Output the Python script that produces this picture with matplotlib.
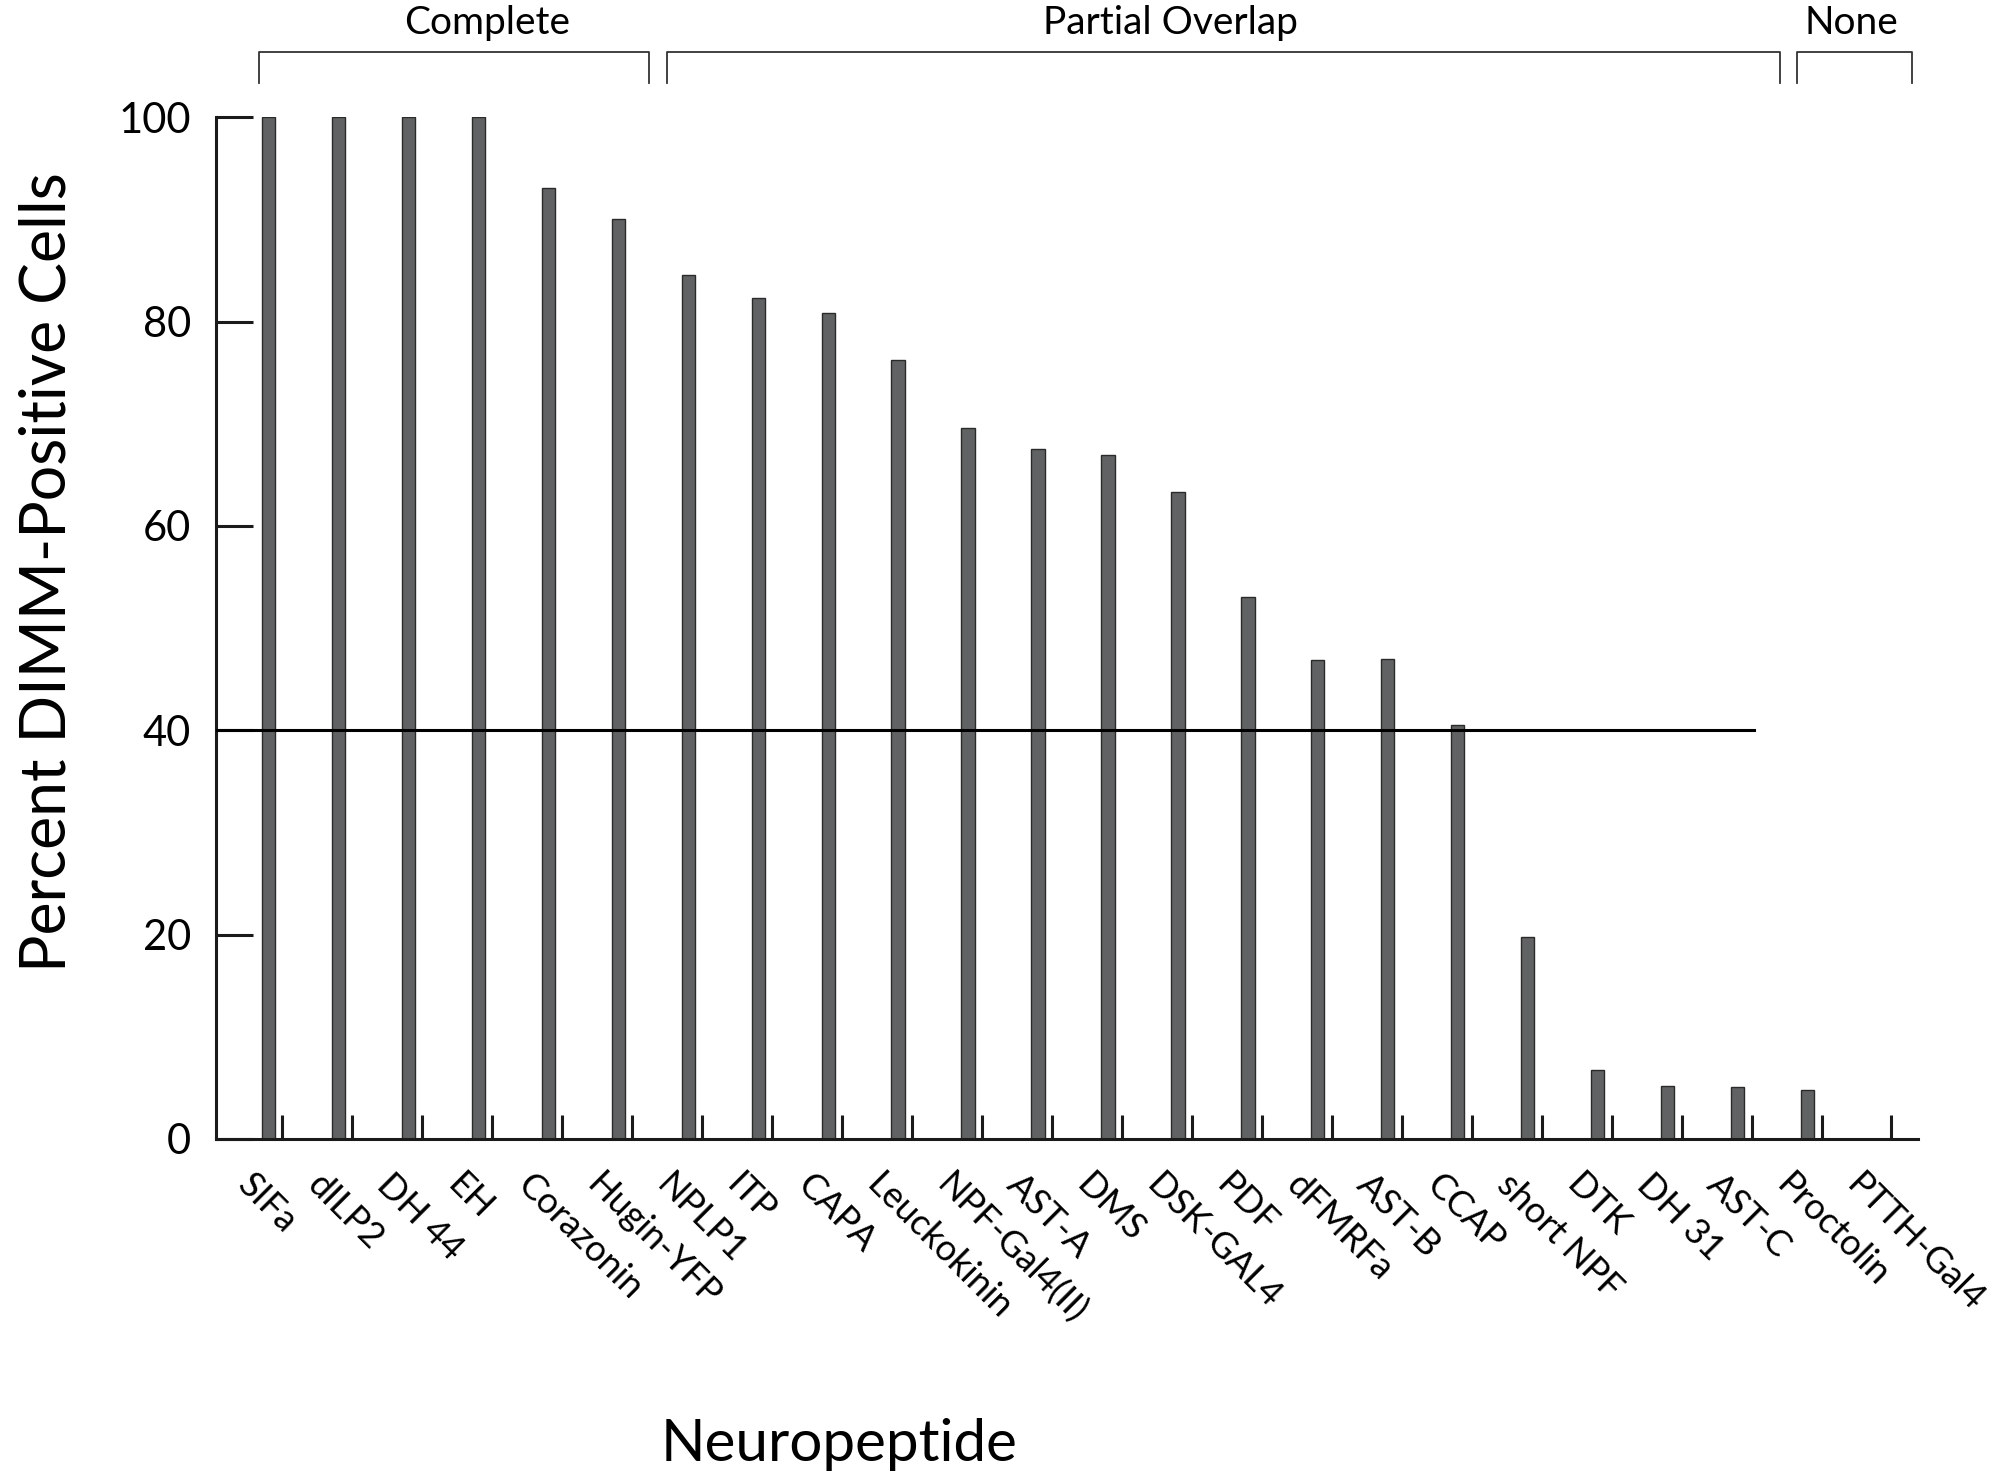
import numpy as np
import matplotlib.pyplot as plt

# данные
peptides = ["SIFa", "dILP2", "DH 44", "EH", "Corazonin", "Hugin-YFP", "NPLP1", "ITP",
            "CAPA", "Leuckokinin", "NPF-Gal4(II)", "AST-A", "DMS", "DSK-GAL4", "PDF",
            "dFMRFa", "AST-B", "CCAP", "short NPF", "DTK", "DH 31", "AST-C",
            "Proctolin", "PTTH-Gal4"]
percent = [100, 100, 100, 100, 93.1, 90.0, 84.6, 82.3, 80.8, 76.2, 69.6, 67.5, 66.9,
           63.3, 53.0, 46.9, 47.0, 40.5, 19.8, 6.7, 5.2, 5.1, 4.75, 0]
threshold = 40
threshold_end = "AST-C"

groups = ["Complete", "Partial Overlap", "None"]
group_start = [-0.14, 5.70, 21.85]
group_end = [5.44, 21.6, 23.5]
group_text_x = [3.12, 12.9, 22.63]

plt.rcParams['font.family'] = ['Lato', 'DejaVu Sans']

fig = plt.figure(figsize=(19.93, 14.83), dpi=100)
ax = fig.add_axes([0.1084, 0.232, 0.854, 0.689])

x = np.arange(len(peptides))
ax.bar(x, percent, width=0.19, color='#616263', edgecolor='#2a2a2a', linewidth=1.0, zorder=2)

# линия порога 40%
x_end = peptides.index(threshold_end) + 0.23
ax.plot([-0.75, x_end], [threshold, threshold], color='black', linewidth=2.2, zorder=3)

ax.set_xlim(-0.75, 23.58)
ax.set_ylim(0, 100)
for s in ['top', 'right']:
    ax.spines[s].set_visible(False)
for s in ['left', 'bottom']:
    ax.spines[s].set_linewidth(2.2)
    ax.spines[s].set_color('#1a1a1a')

# маленькие штрихи рядом со столбцами
ax.set_xticks(x + 0.2)
ax.set_xticklabels([])
ax.tick_params(axis='x', direction='in', length=17.5, width=2.2, color='#1a1a1a')

ax.set_yticks([0, 20, 40, 60, 80, 100])
ax.tick_params(axis='y', direction='in', length=26.5, width=2.2, color='#1a1a1a',
               labelsize=30, pad=18)

for i, name in enumerate(peptides):
    ax.text(i - 0.2, -0.028, name, transform=ax.get_xaxis_transform(),
            rotation=-45, rotation_mode='anchor', ha='left', va='top', fontsize=26)

# скобки групп сверху
for name, a, b, tx in zip(groups, group_start, group_end, group_text_x):
    ax.plot([a, a, b, b], [103.3, 106.4, 106.4, 103.3], color='#333333',
            linewidth=1.3, clip_on=False)
    ax.text(tx, 109.2, name, ha='center', va='center', fontsize=28, clip_on=False)

fig.text(0.024, 0.614, "Percent DIMM-Positive Cells", rotation=90, ha='center',
         va='center', fontsize=45)
fig.text(0.421, 0.026, "Neuropeptide", ha='center', va='center', fontsize=42)

fig.savefig("out.png", dpi=100)
